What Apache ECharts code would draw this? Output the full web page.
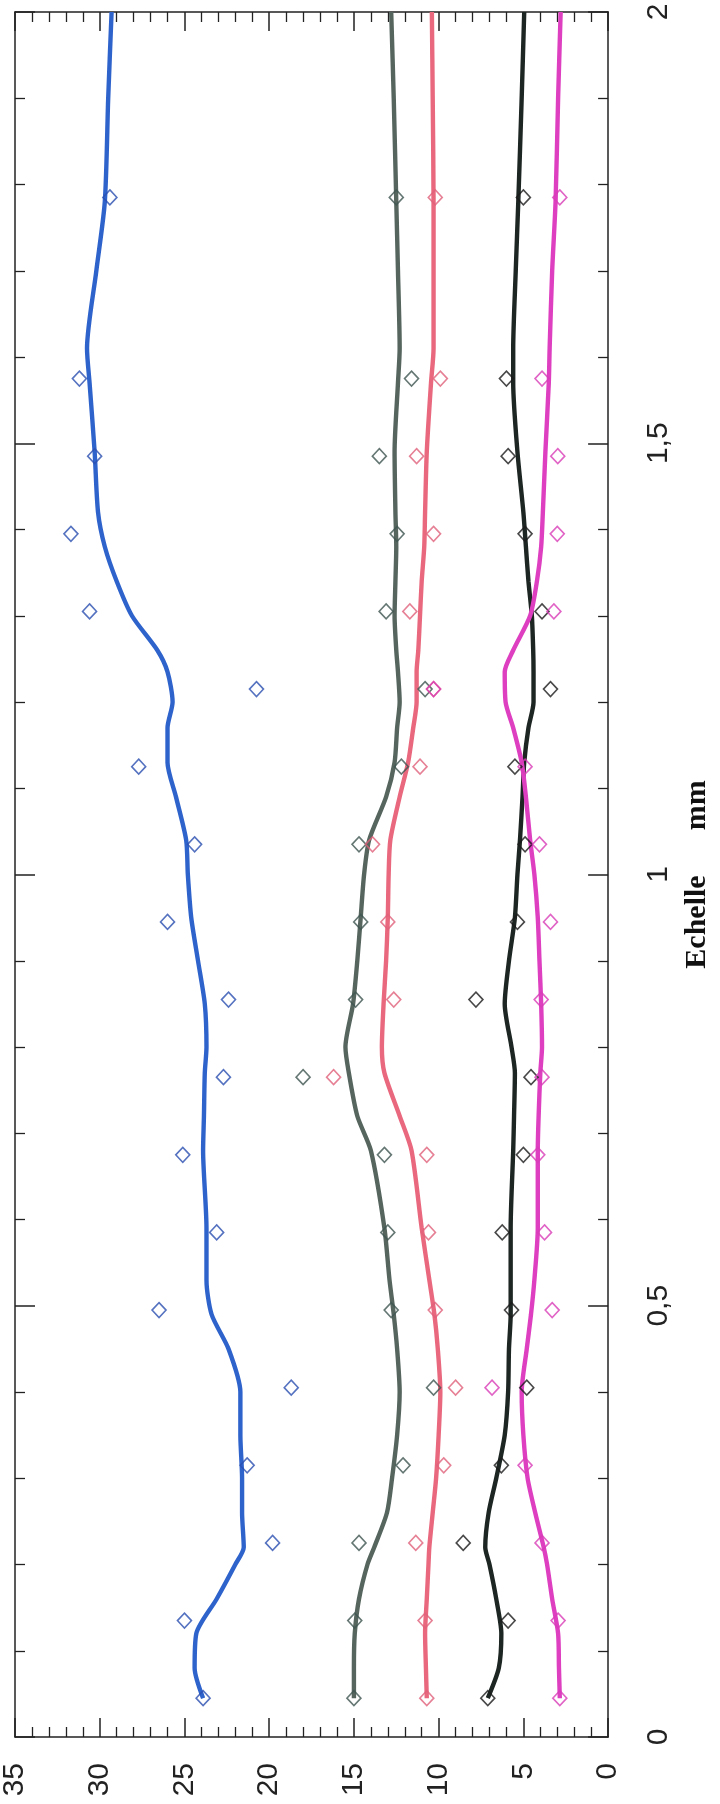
<!DOCTYPE html>
<html>
<head>
<meta charset="utf-8">
<script src="https://cdn.jsdelivr.net/npm/echarts@6/dist/echarts.min.js"></script>
<style>
html,body{margin:0;padding:0;background:#fff;}
#c{width:720px;height:1804px;}
</style>
</head>
<body>
<div id="c"></div>
<script>
// ---- data (x = Echelle mm, value = 0..35) ----
const pointMm = [0.045,0.135,0.225,0.315,0.405,0.495,0.585,0.675,0.765,0.855,0.945,1.035,1.125,1.215,1.305,1.395,1.485,1.575,1.785];
const bluePts    = [23.9,25.0,19.8,21.3,18.7,26.5,23.1,25.1,22.7,22.4,26.0,24.4,27.7,20.75,30.6,31.7,30.3,31.2,29.4];
const grayPts    = [15.0,14.95,14.7,12.1,10.3,12.8,13.0,13.2,18.0,14.9,14.6,14.7,12.2,10.8,13.1,12.45,13.5,11.6,12.5];
const salmonPts  = [10.7,10.8,11.35,9.7,9.0,10.2,10.6,10.7,16.2,12.65,13.0,13.9,11.1,10.3,11.7,10.3,11.3,9.9,10.2];
const blackPts   = [7.1,5.9,8.55,6.3,4.8,5.7,6.25,5.0,4.55,7.8,5.35,4.9,5.5,3.4,3.9,4.9,5.9,6.0,5.0];
const magentaPts = [2.85,2.95,3.9,4.9,6.85,3.3,3.75,4.15,3.9,3.95,3.4,4.05,4.9,10.3,3.2,3.0,2.97,3.9,2.85];

const lineMm = [0.045,0.08,0.12,0.16,0.20,0.22,0.26,0.30,0.35,0.40,0.45,0.49,0.53,0.59,0.68,0.72,0.77,0.80,0.85,0.90,0.95,1.00,1.04,1.09,1.13,1.17,1.20,1.235,1.26,1.30,1.34,1.38,1.42,1.49,1.57,1.61,1.70,1.78,1.90,2.0];
const blueLine    = [23.9,24.4,24.3,23.1,22.0,21.5,21.6,21.6,21.7,21.7,22.4,23.4,23.7,23.7,23.9,23.85,23.8,23.7,23.8,24.2,24.6,24.8,24.9,25.5,26.0,26.0,25.7,26.0,26.6,28.1,29.0,29.7,30.1,30.3,30.6,30.75,30.2,29.7,29.5,29.3];
const grayLine    = [15.0,15.0,14.95,14.7,14.2,13.8,13.05,12.75,12.45,12.3,12.45,12.65,12.9,13.2,14.0,14.8,15.3,15.5,15.05,14.8,14.6,14.4,14.1,13.1,12.6,12.45,12.3,12.4,12.5,12.6,12.55,12.5,12.55,12.6,12.4,12.3,12.4,12.5,12.65,12.8];
const salmonLine  = [10.7,10.75,10.8,10.7,10.6,10.55,10.35,10.15,10.0,9.9,10.05,10.25,10.55,11.0,11.6,12.3,13.2,13.35,13.25,13.1,13.0,12.95,12.85,12.3,11.8,11.5,11.3,11.3,11.2,11.1,11.0,10.85,10.8,10.7,10.45,10.3,10.3,10.3,10.35,10.4];
const blackLine   = [7.1,6.45,6.3,6.6,7.0,7.25,7.05,6.6,6.1,5.9,5.85,5.75,5.75,5.75,5.6,5.55,5.5,5.7,6.1,5.85,5.5,5.35,5.2,5.05,4.95,4.7,4.4,4.4,4.42,4.5,4.7,4.85,5.0,5.35,5.6,5.6,5.45,5.3,5.1,4.95];
const magentaLine = [2.85,2.9,2.95,3.3,3.6,3.8,4.3,4.75,5.0,5.1,4.8,4.55,4.35,4.15,4.15,4.1,4.0,3.9,3.95,4.05,4.15,4.35,4.6,4.85,5.1,5.6,6.05,6.1,5.6,4.6,4.2,3.95,3.85,3.7,3.5,3.45,3.3,3.1,2.95,2.8];

const valueTicks = [0,5,10,15,20,25,30,35];
const mmTicks = [0,0.5,1,1.5,2];
const axisTitle = 'Echelle      mm';

// ---- styles ----
const colors = {
  blue:   {line:'#2f63cc', pt:'#2a4fb0'},
  gray:   {line:'#56665f', pt:'#3f5550'},
  salmon: {line:'#e9687e', pt:'#e0607a'},
  black:  {line:'#1d2622', pt:'#1a1a1a'},
  magenta:{line:'#dd3fc0', pt:'#d83cb6'}
};
const ink = '#222';

function pairs(vals, mm){ return vals.map((v,i)=>[v, mm[i]]); }

function lineSeries(name, vals, c){
  return {name, type:'line', data:pairs(vals,lineMm), symbol:'none', smooth:0.25,
    lineStyle:{color:c, width:4.4}, z:2, silent:true};
}
function ptSeries(name, vals, c){
  return {name, type:'scatter', data:pairs(vals,pointMm), symbol:'diamond', symbolSize:[14,15],
    itemStyle:{color:'rgba(0,0,0,0)', borderColor:c, borderWidth:1.6}, z:3, silent:true};
}

const baseX = {
  type:'value', min:0, max:35, interval:5, inverse:true,
  axisLine:{show:true, onZero:false, lineStyle:{color:ink, width:1.5}},
  axisTick:{show:true, inside:true, length:19, lineStyle:{color:ink, width:1.5}},
  minorTick:{show:true, splitNumber:5, length:10, lineStyle:{color:ink, width:1.3}},
  splitLine:{show:false}, minorSplitLine:{show:false}
};
const baseY = {
  type:'value', min:0, max:2, interval:0.5,
  axisLine:{show:true, onZero:false, lineStyle:{color:ink, width:1.5}},
  axisTick:{show:true, inside:true, length:20, lineStyle:{color:ink, width:1.5}},
  minorTick:{show:true, splitNumber:5, length:10, lineStyle:{color:ink, width:1.3}},
  splitLine:{show:false}, minorSplitLine:{show:false}
};

const chart = echarts.init(document.getElementById('c'), null, {renderer:'canvas'});
chart.setOption({
  backgroundColor:'#fff',
  animation:false,
  grid:{left:14, right:104, top:12, bottom:67, containLabel:false},
  xAxis:[
    Object.assign({}, baseX, {position:'bottom',
      axisLabel:{show:true, rotate:90, margin:26, fontSize:30, color:ink, fontFamily:'Liberation Sans',
        formatter:v=> valueTicks.includes(v) ? String(v) : ''}}),
    Object.assign({}, baseX, {position:'top', axisLabel:{show:false}})
  ],
  yAxis:[
    Object.assign({}, baseY, {position:'right',
      axisLabel:{show:true, rotate:90, margin:36, fontSize:30, color:ink, fontFamily:'Liberation Sans',
        formatter:v=> mmTicks.includes(v) ? String(v).replace('.', ',') : ''},
      name:axisTitle, nameLocation:'middle', nameRotate:90, nameGap:72,
      nameTextStyle:{fontFamily:'Liberation Serif', fontWeight:'bold', fontSize:30, color:'#111'}}),
    Object.assign({}, baseY, {position:'left', axisLabel:{show:false}})
  ],
  series:[
    lineSeries('blue line', blueLine, colors.blue.line),
    lineSeries('gray line', grayLine, colors.gray.line),
    lineSeries('salmon line', salmonLine, colors.salmon.line),
    lineSeries('black line', blackLine, colors.black.line),
    lineSeries('magenta line', magentaLine, colors.magenta.line),
    ptSeries('blue', bluePts, colors.blue.pt),
    ptSeries('gray', grayPts, colors.gray.pt),
    ptSeries('salmon', salmonPts, colors.salmon.pt),
    ptSeries('black', blackPts, colors.black.pt),
    ptSeries('magenta', magentaPts, colors.magenta.pt)
  ]
});
</script>
</body>
</html>
